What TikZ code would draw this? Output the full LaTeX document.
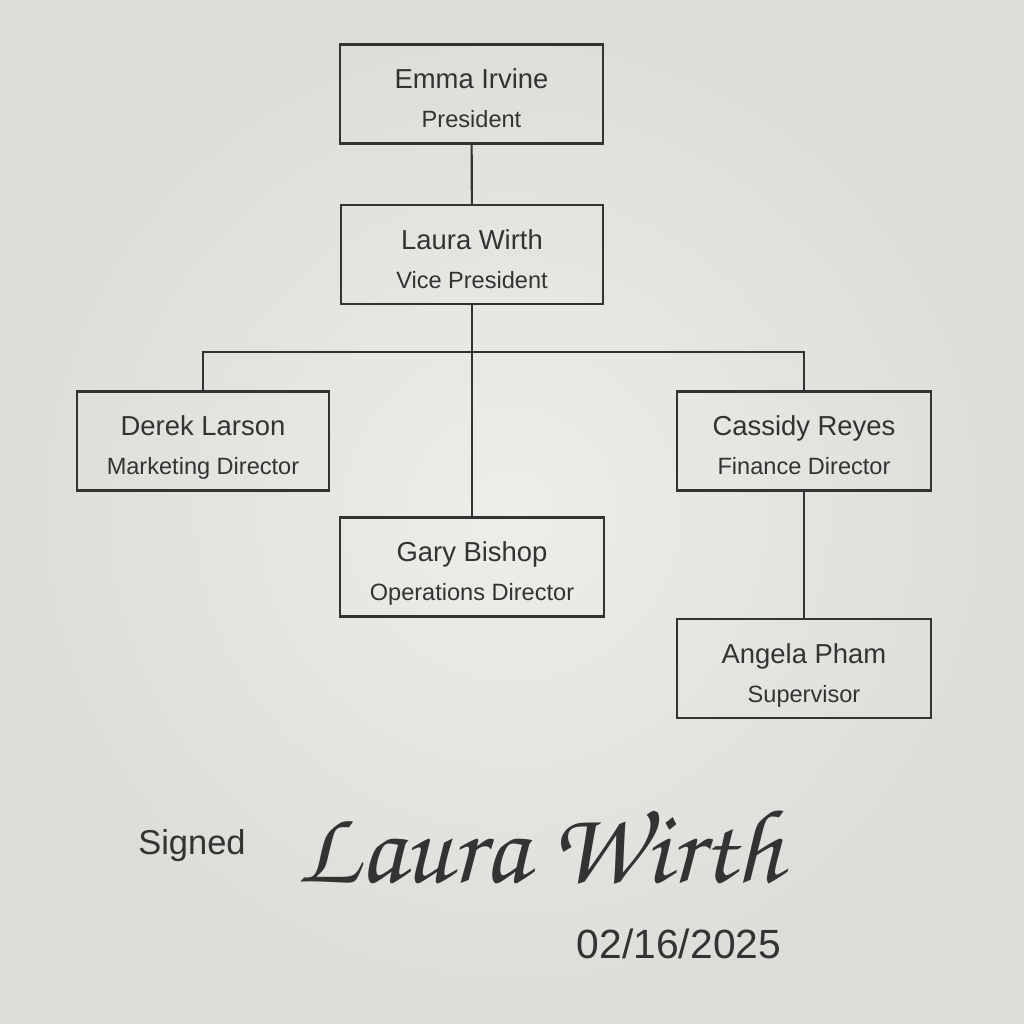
\documentclass[tikz,border=0pt]{standalone}
\usepackage{fontspec}
\setmainfont{Liberation Sans}
\usetikzlibrary{calc}
\definecolor{paper}{HTML}{EEEDE9}
\definecolor{paperdark}{HTML}{DDDCD8}
\definecolor{ink}{HTML}{333333}
\tikzset{
  card/.style={draw=ink, line width=0.6pt, minimum width=2.62cm, minimum height=0.99cm,
    inner sep=0pt, align=center, text=ink, font=\fontsize{7.8}{11}\selectfont},
  link/.style={draw=ink, line width=0.6pt}
}
\newcommand{\who}[2]{\rule{0pt}{10.1pt}#1\\{\fontsize{6.7}{8}\selectfont\rule[-2pt]{0pt}{2pt}#2}}

\begin{document}
\begin{tikzpicture}[x=0.01cm, y=-0.01cm]
  \useasboundingbox (0,0) rectangle (1024,1024);
  \shade [inner color=paper, outer color=paperdark] (0,0) rectangle (1024,1024);
  % people
  \node [card] (emma) at (471.5,94) {\who{Emma Irvine}{President}};
  \node [card] (laura) at (472,254.5) {\who{Laura Wirth}{Vice President}};
  \node [card, minimum width=2.52cm] (derek) at (203,441) {\who{Derek Larson}{Marketing Director}};
  \node [card, minimum width=2.54cm] (cassidy) at (804,441) {\who{Cassidy Reyes}{Finance Director}};
  \node [card, minimum width=2.64cm] (gary) at (472,567) {\who{Gary Bishop}{Operations Director}};
  \node [card, minimum width=2.54cm] (angela) at (804,668.5) {\who{Angela Pham}{Supervisor}};
  \coordinate (bus) at (472,352);
  % lines
  \draw [link] (emma) -- (laura);
  \draw [link] (laura) -- (gary);
  \draw [link] (derek.north) |- (bus) -| (cassidy.north);
  \draw [link] (cassidy) -- (angela);
  % signature
  \node [text=ink, font=\fontsize{9.8}{12}\selectfont] (signed) at (192,846) {Signed};
  \node [text=ink, font=\usefont{OT1}{pzc}{m}{it}\fontsize{30}{36}\selectfont] (sign) at (540,845) {Laura Wirth};
  \node [text=ink, font=\fontsize{11.6}{14}\selectfont] (date) at (679,944) {02/16/2025};
\end{tikzpicture}
\end{document}
